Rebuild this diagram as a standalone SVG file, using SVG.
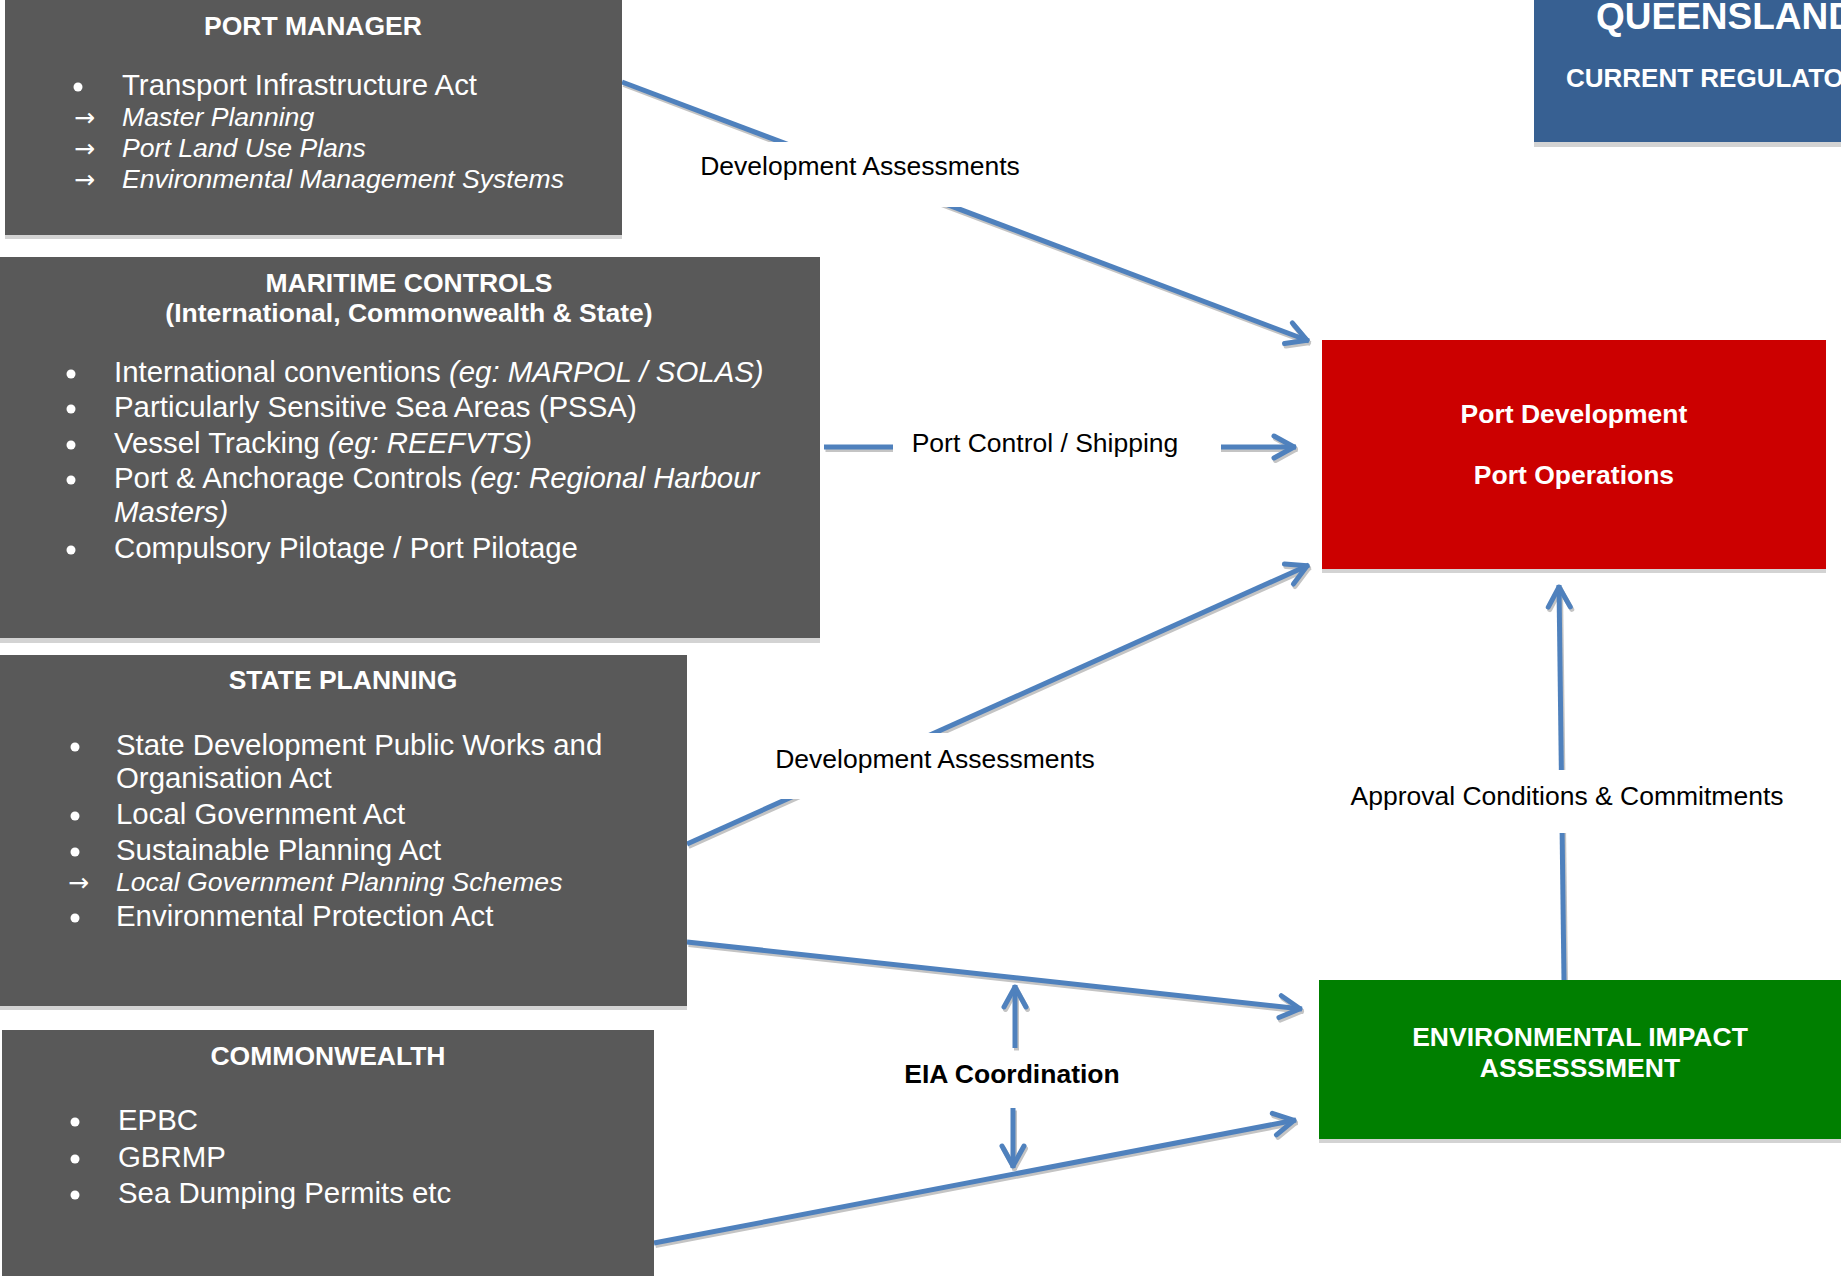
<svg xmlns="http://www.w3.org/2000/svg" width="1841" height="1276" viewBox="0 0 1841 1276">
<style>
.box{fill:#595959}
.shd{fill:#D3D3D3}
.ttl{font-family:"Liberation Sans",Arial,sans-serif;font-weight:bold;font-size:26.5px;fill:#fff;text-anchor:middle}
.item{font-family:"Liberation Sans",Arial,sans-serif;font-size:29.4px;fill:#fff}
.it{font-style:italic}
.sub{font-family:"Liberation Sans",Arial,sans-serif;font-style:italic;font-size:26.6px;fill:#fff}
.arr{font-family:"DejaVu Sans",sans-serif;font-size:25px;fill:#fff}
.bul{fill:#fff}
.conn{fill:none;stroke:#4F81BD;stroke-width:5}
.cshd{fill:none;stroke:#C4C4C4;stroke-width:5}
.lblbg{fill:#fff}
.lbl{font-family:"Liberation Sans",Arial,sans-serif;font-size:26.5px;fill:#000;text-anchor:middle}
.lblb{font-family:"Liberation Sans",Arial,sans-serif;font-size:26.5px;font-weight:bold;fill:#000;text-anchor:middle}
</style>
<defs>
<marker id="ah" markerUnits="userSpaceOnUse" markerWidth="40" markerHeight="40" viewBox="-30 -20 40 40" refX="0" refY="0" orient="auto" overflow="visible">
<path d="M-22,-11 L-2,0 L-22,11" fill="none" stroke="#4F81BD" stroke-width="5" stroke-linejoin="round" stroke-linecap="round"/>
</marker>
<marker id="ahs" markerUnits="userSpaceOnUse" markerWidth="40" markerHeight="40" viewBox="-30 -20 40 40" refX="0" refY="0" orient="auto" overflow="visible">
<path d="M-22,-11 L-2,0 L-22,11" fill="none" stroke="#C4C4C4" stroke-width="5" stroke-linejoin="round" stroke-linecap="round"/>
</marker>
</defs>
<rect width="1841" height="1276" fill="#fff"/>

<g id="connectors">
<g transform="translate(1.5,2.5)">
<path class="cshd" d="M622,82 L1309,341" marker-end="url(#ahs)"/>
<path class="cshd" d="M824,447 L1296,447" marker-end="url(#ahs)"/>
<path class="cshd" d="M687,844 L1309,565" marker-end="url(#ahs)"/>
<path class="cshd" d="M687,942 L1302,1009" marker-end="url(#ahs)"/>
<path class="cshd" d="M654,1243 L1296,1120" marker-end="url(#ahs)"/>
<path class="cshd" d="M1015,1048 L1015,985" marker-end="url(#ahs)"/>
<path class="cshd" d="M1013,1108 L1013,1168" marker-end="url(#ahs)"/>
<path class="cshd" d="M1564,980 L1559,585" marker-end="url(#ahs)"/>
</g>
<path class="conn" d="M622,82 L1309,341" marker-end="url(#ah)"/>
<path class="conn" d="M824,447 L1296,447" marker-end="url(#ah)"/>
<path class="conn" d="M687,844 L1309,565" marker-end="url(#ah)"/>
<path class="conn" d="M687,942 L1302,1009" marker-end="url(#ah)"/>
<path class="conn" d="M654,1243 L1296,1120" marker-end="url(#ah)"/>
<path class="conn" d="M1015,1048 L1015,985" marker-end="url(#ah)"/>
<path class="conn" d="M1013,1108 L1013,1168" marker-end="url(#ah)"/>
<path class="conn" d="M1564,980 L1559,585" marker-end="url(#ah)"/>
<rect class="lblbg" x="688" y="142" width="345" height="65"/>
<text class="lbl" x="860" y="175">Development Assessments</text>
<rect class="lblbg" x="893" y="420" width="328" height="56"/>
<text class="lbl" x="1045" y="452">Port Control / Shipping</text>
<rect class="lblbg" x="760" y="733" width="350" height="66"/>
<text class="lbl" x="935" y="768">Development Assessments</text>
<rect class="lblbg" x="1340" y="770" width="455" height="63"/>
<text class="lbl" x="1567" y="805">Approval Conditions &amp; Commitments</text>
<text class="lblb" x="1012" y="1083">EIA Coordination</text>
</g>

<g id="port-manager">
<rect class="shd" x="5" y="4" width="617" height="235"/>
<rect class="box" x="5" y="0" width="617" height="235"/>
<text class="ttl" x="313" y="35">PORT MANAGER</text>
<circle class="bul" cx="78" cy="87" r="4.5"/>
<text class="item" x="122" y="95">Transport Infrastructure Act</text>
<text class="arr" x="74" y="126">→</text>
<text class="sub" x="122" y="126">Master Planning</text>
<text class="arr" x="74" y="157">→</text>
<text class="sub" x="122" y="157">Port Land Use Plans</text>
<text class="arr" x="74" y="188">→</text>
<text class="sub" x="122" y="188">Environmental Management Systems</text>
</g>

<g id="maritime-controls">
<rect class="shd" x="0" y="262" width="820" height="381"/>
<rect class="box" x="0" y="257" width="820" height="381"/>
<text class="ttl" x="409" y="292">MARITIME CONTROLS</text>
<text class="ttl" x="409" y="322">(International, Commonwealth &amp; State)</text>
<circle class="bul" cx="71" cy="374" r="4.5"/>
<text class="item" x="114" y="382">International conventions <tspan class="it">(eg: MARPOL / SOLAS)</tspan></text>
<circle class="bul" cx="71" cy="409" r="4.5"/>
<text class="item" x="114" y="417">Particularly Sensitive Sea Areas (PSSA)</text>
<circle class="bul" cx="71" cy="445" r="4.5"/>
<text class="item" x="114" y="453">Vessel Tracking <tspan class="it">(eg: REEFVTS)</tspan></text>
<circle class="bul" cx="71" cy="480" r="4.5"/>
<text class="item" x="114" y="488">Port &amp; Anchorage Controls <tspan class="it">(eg: Regional Harbour</tspan></text>
<text class="item it" x="114" y="522">Masters)</text>
<circle class="bul" cx="71" cy="550" r="4.5"/>
<text class="item" x="114" y="558">Compulsory Pilotage / Port Pilotage</text>
</g>

<g id="state-planning">
<rect class="shd" x="0" y="659" width="687" height="351"/>
<rect class="box" x="0" y="655" width="687" height="351"/>
<text class="ttl" x="343" y="689">STATE PLANNING</text>
<circle class="bul" cx="75" cy="747" r="4.5"/>
<text class="item" x="116" y="755">State Development Public Works and</text>
<text class="item" x="116" y="788">Organisation Act</text>
<circle class="bul" cx="75" cy="816" r="4.5"/>
<text class="item" x="116" y="824">Local Government Act</text>
<circle class="bul" cx="75" cy="852" r="4.5"/>
<text class="item" x="116" y="860">Sustainable Planning Act</text>
<text class="arr" x="68" y="891">→</text>
<text class="sub" x="116" y="891">Local Government Planning Schemes</text>
<circle class="bul" cx="75" cy="918" r="4.5"/>
<text class="item" x="116" y="926">Environmental Protection Act</text>
</g>

<g id="commonwealth">
<rect class="shd" x="2" y="1034" width="652" height="246"/>
<rect class="box" x="2" y="1030" width="652" height="246"/>
<text class="ttl" x="328" y="1065">COMMONWEALTH</text>
<circle class="bul" cx="75" cy="1122" r="4.5"/>
<text class="item" x="118" y="1130">EPBC</text>
<circle class="bul" cx="75" cy="1159" r="4.5"/>
<text class="item" x="118" y="1167">GBRMP</text>
<circle class="bul" cx="75" cy="1195" r="4.5"/>
<text class="item" x="118" y="1203">Sea Dumping Permits etc</text>
</g>

<g id="queensland-title">
<rect class="shd" x="1534" y="5" width="307" height="142"/>
<rect x="1534" y="0" width="307" height="142" fill="#376092"/>
<text x="1596" y="29" font-family="Liberation Sans, Arial, sans-serif" font-weight="bold" font-size="37" fill="#fff">QUEENSLAND</text>
<text x="1566" y="87" font-family="Liberation Sans, Arial, sans-serif" font-weight="bold" font-size="26" fill="#fff">CURRENT REGULATORY</text>
</g>

<g id="port-development">
<rect class="shd" x="1322" y="344" width="504" height="229"/>
<rect x="1322" y="340" width="504" height="229" fill="#CC0000"/>
<text class="ttl" x="1574" y="423">Port Development</text>
<text class="ttl" x="1574" y="484">Port Operations</text>
</g>

<g id="eia">
<rect class="shd" x="1319" y="984" width="522" height="159"/>
<rect x="1319" y="980" width="522" height="159" fill="#007F00"/>
<text class="ttl" x="1580" y="1046">ENVIRONMENTAL IMPACT</text>
<text class="ttl" x="1580" y="1077">ASSESSSMENT</text>
</g>
</svg>
